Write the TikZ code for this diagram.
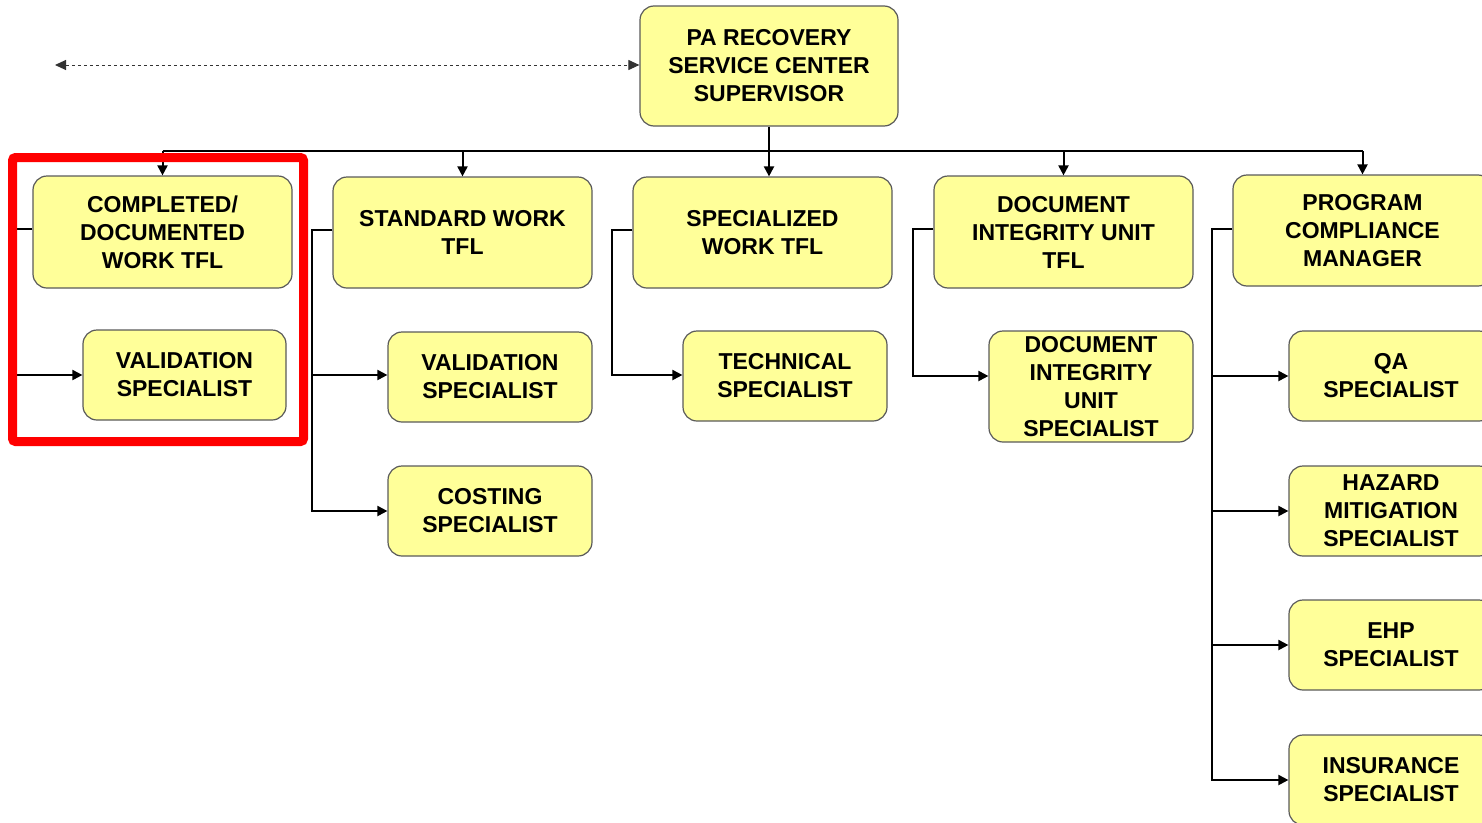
\documentclass[tikz,border=0pt]{standalone}
\usepackage{fontspec}
\setmainfont{Liberation Sans}
\usetikzlibrary{arrows.meta,calc}
\definecolor{boxfill}{HTML}{FFFF99}
\definecolor{boxline}{HTML}{5A5A5A}
\tikzset{
  orgbox/.style={draw=boxline, fill=boxfill, line width=1.2pt, rounded corners=14pt,
    align=center, inner sep=0pt, font=\fontsize{23}{28}\selectfont\bfseries, text=black},
  wide/.style={orgbox, minimum width=259pt},
  narrow/.style={orgbox, minimum width=204pt},
  link/.style={line width=2pt, black},
  arr/.style={link, -{Triangle[length=10pt,width=10pt]}},
  peer/.style={line width=1pt, black!80, dash pattern=on 3pt off 3pt,
    {Triangle[length=11pt,width=10pt]}-{Triangle[length=11pt,width=10pt]}},
}
\begin{document}
\begin{tikzpicture}[x=1pt,y=-1pt]
\useasboundingbox (0,0) rectangle (1482,822);
\clip (0,0) rectangle (1482,822);

% top position
\node[orgbox, minimum width=258pt, minimum height=120pt] (sup) at (769,66)
  {PA RECOVERY\\SERVICE CENTER\\SUPERVISOR};

% first level
\node[wide, minimum height=112pt] (c1) at (162.5,232) {COMPLETED/\\DOCUMENTED\\WORK TFL};
\node[wide, minimum height=111pt] (c2) at (462.5,232.5) {STANDARD WORK\\TFL};
\node[wide, minimum height=111pt] (c3) at (762.5,232.5) {SPECIALIZED\\WORK TFL};
\node[wide, minimum height=112pt] (c4) at (1063.5,232) {DOCUMENT\\INTEGRITY UNIT\\TFL};
\node[wide, minimum height=111pt] (c5) at (1362.5,230.5) {PROGRAM\\COMPLIANCE\\MANAGER};

% specialists
\node[narrow, minimum width=203pt, minimum height=90pt] (v1) at (184.5,375) {VALIDATION\\SPECIALIST};
\node[narrow, minimum height=90pt] (v2) at (490,377) {VALIDATION\\SPECIALIST};
\node[narrow, minimum height=90pt] (cost) at (490,511) {COSTING\\SPECIALIST};
\node[narrow, minimum height=90pt] (tech) at (785,376) {TECHNICAL\\SPECIALIST};
\node[narrow, minimum height=111pt] (dis) at (1091,386.5) {DOCUMENT\\INTEGRITY\\UNIT\\SPECIALIST};
\node[narrow, minimum height=90pt] (qa) at (1391,376) {QA\\SPECIALIST};
\node[narrow, minimum height=90pt] (haz) at (1391,511) {HAZARD\\MITIGATION\\SPECIALIST};
\node[narrow, minimum height=90pt] (ehp) at (1391,645) {EHP\\SPECIALIST};
\node[narrow, minimum height=90pt] (ins) at (1391,780) {INSURANCE\\SPECIALIST};

% peer link
\coordinate (peerL) at (55,65);
\draw[peer] (peerL) -- (sup.west |- peerL);

% distribution bus
\coordinate (bus) at (0,151);
\draw[link] (c1.north |- bus) -- (c5.north |- bus);
\draw[arr] (sup.south) -- (sup.south |- c3.north);
\foreach \n in {c1,c2,c4,c5} \draw[arr] (\n.north |- bus) -- (\n.north);

% column trunks
\coordinate (t1) at ($(c1.west)+(-20,-3)$);
\coordinate (t2) at ($(c2.west)+(-20,-3)$);
\coordinate (t3) at ($(c3.west)+(-20,-3)$);
\coordinate (t4) at ($(c4.west)+(-20,-3)$);
\coordinate (t5) at ($(c5.west)+(-20,-1.5)$);

\draw[arr] (c1.west |- t1) -- (t1) |- (v1.west);
\draw[arr] (c2.west |- t2) -- (t2) |- (cost.west);
\draw[arr] ($(t2 |- v2.west)+(0,-2)$) -- ($(v2.west)+(0,-2)$);
\draw[arr] (c3.west |- t3) -- (t3) |- ($(tech.west)+(0,-1)$);
\draw[arr] (c4.west |- t4) -- (t4) |- ($(dis.west)+(0,-10.5)$);
\draw[arr] (c5.west |- t5) -- (t5) |- (ins.west);
\foreach \n in {qa,haz,ehp} \draw[arr] (t5 |- \n.west) -- (\n.west);

% highlight frame
\draw[red, line width=9pt, rounded corners=3pt] (12.5,157.5) rectangle (303.5,441.5);
\end{tikzpicture}
\end{document}
